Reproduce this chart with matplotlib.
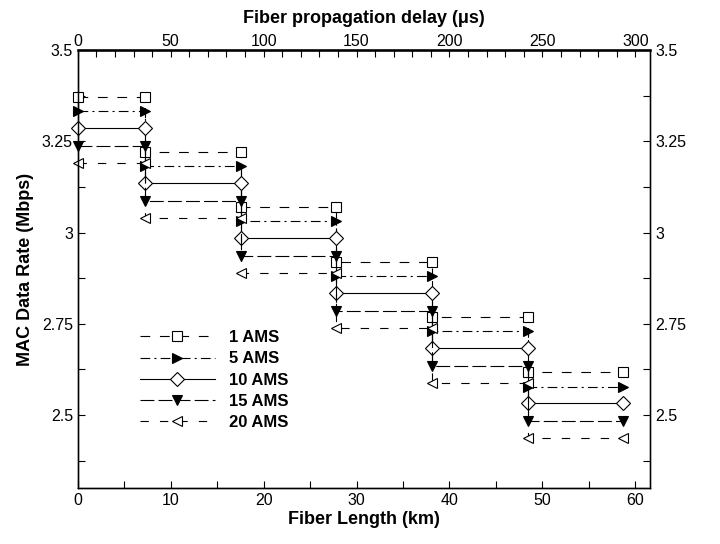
import numpy as np
import matplotlib.pyplot as plt

plt.rcParams['font.family'] = ['Liberation Sans', 'DejaVu Sans']
plt.rcParams['lines.scale_dashes'] = False

# step edges along the fiber (km)
edges = [0, 7.2, 17.6, 27.8, 38.1, 48.5, 58.7]

labels = ['1 AMS', '5 AMS', '10 AMS', '15 AMS', '20 AMS']
rate_1 = [3.372, 3.221, 3.070, 2.919, 2.768, 2.617]
rate_5 = [3.333, 3.182, 3.031, 2.880, 2.729, 2.578]
rate_10 = [3.287, 3.136, 2.985, 2.834, 2.683, 2.532]
rate_15 = [3.238, 3.087, 2.936, 2.785, 2.634, 2.483]
rate_20 = [3.191, 3.040, 2.889, 2.738, 2.587, 2.436]
rates = [rate_1, rate_5, rate_10, rate_15, rate_20]

markers = ['s', '>', 'D', 'v', '<']
filled = [False, True, False, True, False]
dashes = [(0, (7, 7)), (0, (7, 3, 1.5, 3)), '-', (0, (10, 3)), (0, (6, 8))]

fig = plt.figure(figsize=(7.2, 5.44), dpi=100)
ax = fig.add_axes([0.108, 0.103, 0.795, 0.805])

for lab, r, m, f, ls in zip(labels, rates, markers, filled, dashes):
    xs = []
    ys = []
    for k in range(len(r)):
        xs += [edges[k], edges[k + 1]]
        ys += [r[k], r[k]]
    ms = 7 if m == 'D' else 6.5
    ax.plot(xs, ys, color='black', lw=0.8, linestyle=ls, marker=m,
            markersize=ms, markerfacecolor='black' if f else 'white',
            markeredgecolor='black', markeredgewidth=0.8, label=lab,
            clip_on=False, zorder=3)

ax.set_xlim(0, 61.6)
ax.set_ylim(2.3, 3.5)
ax.set_xticks([0, 10, 20, 30, 40, 50, 60])
ax.set_xticks(np.arange(5, 61, 10), minor=True)
ax.set_yticks([2.5, 2.75, 3, 3.25, 3.5])
ax.set_yticklabels(['2.5', '2.75', '3', '3.25', '3.5'])
ax.set_yticks([2.375, 2.625, 2.875, 3.125, 3.375], minor=True)
ax.tick_params(which='both', direction='in', length=5, labelsize=11.5, width=0.8)
ax.set_xlabel('Fiber Length (km)', fontsize=13, fontweight='bold', labelpad=2)
ax.set_ylabel('MAC Data Rate (Mbps)', fontsize=13, fontweight='bold', labelpad=6)

axr = ax.twinx()
axr.set_ylim(2.3, 3.5)
axr.set_yticks([2.5, 2.75, 3, 3.25, 3.5])
axr.set_yticklabels(['2.5', '2.75', '3', '3.25', '3.5'])
axr.set_yticks([2.375, 2.625, 2.875, 3.125, 3.375], minor=True)
axr.tick_params(which='both', direction='in', length=5, labelsize=11.5, width=0.8)

axt = ax.twiny()
axt.set_xlim(0, 61.6 * 5)
axt.set_xticks([0, 50, 100, 150, 200, 250, 300])
axt.set_xticks(np.arange(10, 301, 10), minor=True)
axt.tick_params(which='both', direction='in', length=5, labelsize=11.5, width=0.8, pad=1)
axt.set_xlabel('Fiber propagation delay (μs)', fontsize=13, fontweight='bold', labelpad=8)

for a in (ax, axr, axt):
    for s in a.spines.values():
        s.set_linewidth(0.9)
axt.spines['top'].set_linewidth(1.8)
axr.spines['right'].set_color('#555555')

leg = ax.legend(loc='upper left', bbox_to_anchor=(0.108, 0.36), frameon=False,
                handlelength=4.5, handletextpad=0.85, labelspacing=0.37,
                borderaxespad=0, borderpad=0, prop={'weight': 'bold', 'size': 12})

fig.savefig('out.png', dpi=100)
